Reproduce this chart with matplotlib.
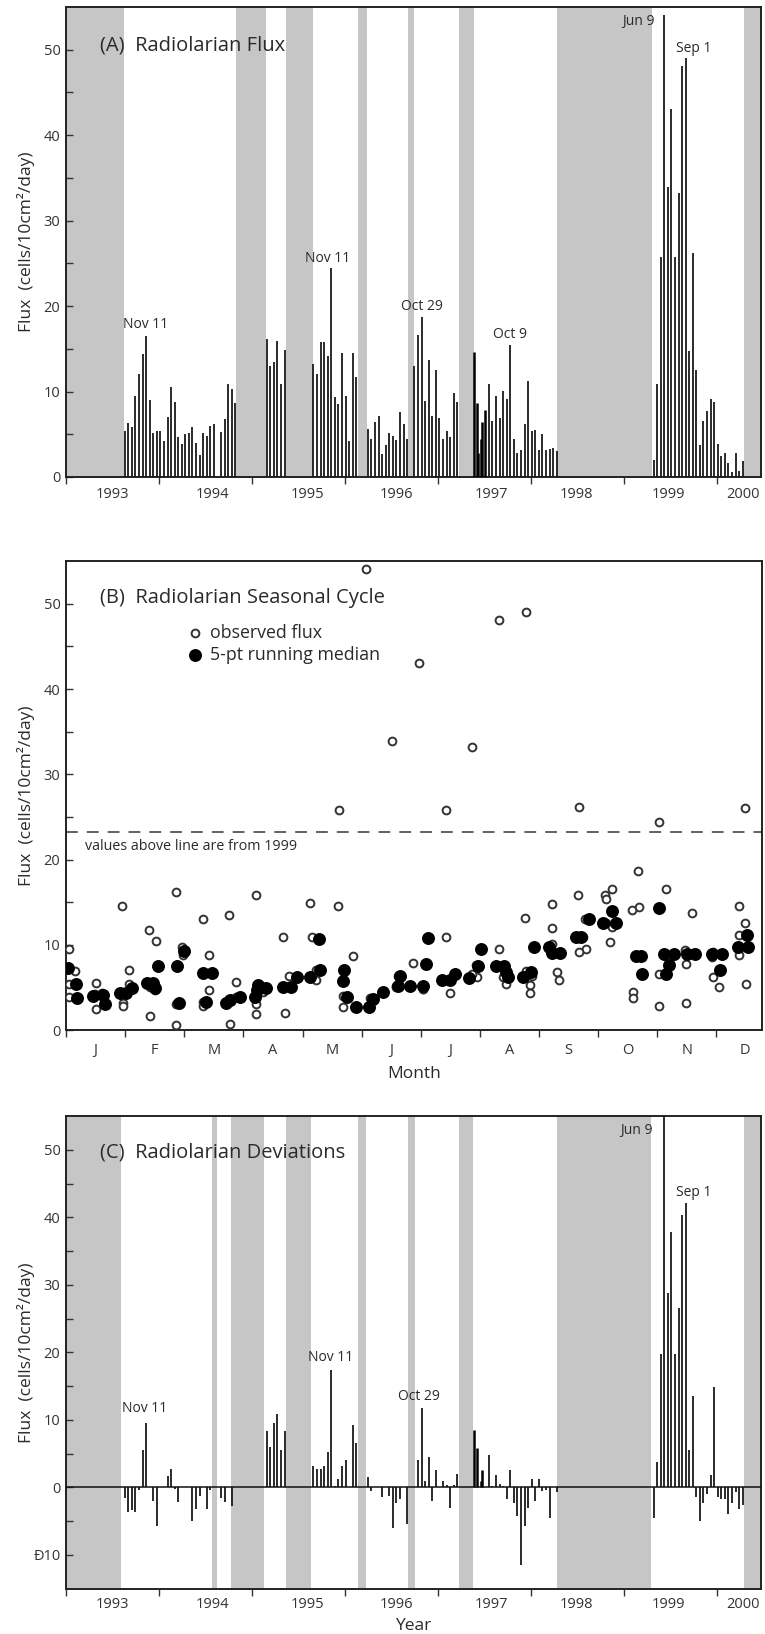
import numpy as np
import matplotlib.pyplot as plt

plt.rcParams['font.family'] = ['Open Sans', 'DejaVu Sans']
plt.rcParams['lines.scale_dashes'] = False
plt.rcParams['text.color'] = '#2a2a2a'

nan = np.nan
step = 14 / 365.25  # two-week sampling cups

# Panel A (observed flux) and panel C (deviations), one list per sampling run
start_93 = 1993.631
flux_93 = [5.4, 6.3, 5.9, 9.5, 12.1, 14.4, 16.5, 9.0, 5.1, 5.35, 5.35, 4.2, 7.0, 10.5, 8.8, 4.7,
           3.9, 5.0, 5.2, 5.9, 4.0, 2.6, 5.1, 4.8, 6.0, 6.2, nan, 5.3, 6.8, 10.9, 10.3, 8.7]
dev_93 = [-1.6, -3.6, -3.3, -3.6, -0.35, 5.6, 9.6, 0.0, -2.1, -5.8, 0.0, 0.0, 1.7, 2.7, -0.3, -2.2,
          0.0, 0.0, 0.0, -5.0, -3.2, -1.3, 0.0, -3.2, -0.35, nan, nan, -1.6, -2.2, 0.0, -2.8, nan]

start_95a = 1995.158
flux_95a = [16.2, 13.0, 13.5, 15.9, 10.9, 14.9]
dev_95a = [8.4, 6.0, 9.5, 10.8, 5.6, 8.3]

start_95b = 1995.659
flux_95b = [13.2, 12.0, 15.8, 15.8, 14.1, 24.4, 9.4, 8.55, 14.5, 9.5, 4.2, 14.5, 11.7]
dev_95b = [3.2, 2.7, 2.7, 3.1, 5.2, 17.4, 0.25, 1.2, 3.1, 4.0, 0.0, 9.3, 6.5]

start_96a = 1996.244
flux_96a = [5.6, 4.5, 6.4, 7.1, 2.7, 3.75, 5.2, 4.8, 4.3, 7.6, 6.25, 4.4]
dev_96a = [1.6, -0.5, 0.0, 0.0, -1.4, 0.0, -1.3, -6.1, -2.3, -1.8, 0.0, -5.4]

start_96b = 1996.745
flux_96b = [13.0, 16.6, 18.7, 8.9, 13.7, 7.1, 12.5, 6.9, 4.4, 5.4, 4.7, 9.8, 8.8]
dev_96b = [0.0, 4.0, 11.75, 1.0, 4.5, -2.0, 2.5, 0.0, 1.0, 0.3, -3.0, 0.3, 1.9]

# short, closely spaced cups in spring 1997 (drawn solid black)
dense_years = [1997.390, 1997.412, 1997.433, 1997.455, 1997.476, 1997.498]
dense_flux = [14.6, 8.7, 2.8, 4.5, 6.4, 7.85]
dense_dev = [8.5, 5.8, 0.0, 1.0, 2.5, 0.0]

start_97 = 1997.545
flux_97 = [10.9, 6.6, 9.5, 6.9, 10.1, 9.1, 15.4, 4.5, 2.85, 3.2, 6.2, 11.2, 5.4, 5.5, 3.2, 5.0,
           3.1, 3.3, 3.4, 3.05]
dev_97 = [4.8, 0.2, 1.8, 0.5, 0.2, -1.8, 2.5, -2.3, -4.3, -11.5, -5.7, -3.1, 1.2, -2.0, 1.2, -0.6,
          -0.4, -4.6, 0.0, -0.7]

start_99 = 1999.315
flux_99 = [2.0, 10.9, 25.8, 54.1, 33.9, 43.1, 25.8, 33.2, 48.1, 49.0, 14.8, 26.2, 12.5, 3.75, 6.6,
           7.7, 9.1, 8.75, 3.9, 2.5, 2.85, 1.6, 0.6, 2.85, 0.7, 1.9]
dev_99 = [-4.5, 3.7, 19.8, 56.0, 28.8, 37.8, 19.7, 26.6, 40.4, 42.1, 5.6, 13.5, -1.5, -5.0, -2.3,
          -1.0, 1.8, 14.9, -1.5, -1.7, -1.7, -3.9, -2.3, -0.7, -3.2, -2.6]

# grey bands (no data)
gaps_a = [(1993.0, 1993.624), (1994.831, 1995.147), (1995.366, 1995.653), (1996.136, 1996.237),
          (1996.681, 1996.742), (1997.226, 1997.387), (1998.28, 1999.30), (2000.283, 2000.47)]
gaps_c = [(1993.0, 1993.596), (1994.566, 1994.626), (1994.778, 1995.126), (1995.362, 1995.634),
          (1996.136, 1996.222), (1996.681, 1996.753), (1997.219, 1997.369), (1998.28, 1999.29),
          (2000.283, 2000.47)]

# Panel B: 5-pt running median (day of year, flux)
median_day = [0.9, 5.2, 5.9, 14, 19.2, 20.4, 28.3, 31.4, 34.4, 42.2, 45.4, 46.6, 48.3, 58.3, 59.2,
              62, 71.9, 73.3, 76.3, 84.1, 85.9, 91, 99, 100, 100.7, 105, 114, 118, 121, 127.7,
              132.6, 133.3, 145, 146, 147.5, 152, 159, 161, 166, 174.3, 175, 180.4, 187, 188.5,
              189.6, 197.2, 201.4, 203.7, 211.5, 215.9, 217.6, 225.5, 229.8, 230.7, 231.6, 239.4,
              243.8, 245.5, 253.4, 255, 259, 267.4, 270, 274, 281.7, 286.2, 288.3, 298.8, 301.4,
              302, 311, 313.6, 314.8, 315.9, 318.8, 325.8, 329.8, 338.6, 342.7, 343.8, 352.5,
              357.2, 357.7]
median_val = [7.3, 5.35, 3.8, 4.0, 4.1, 3.1, 4.3, 4.3, 4.9, 5.5, 5.5, 4.9, 7.5, 7.5, 3.2,
              9.3, 6.7, 3.3, 6.7, 3.2, 3.5, 3.9, 3.9, 4.7, 5.3, 4.9, 5.1, 5.1, 6.25, 6.25,
              10.7, 7.0, 5.7, 7.0, 3.9, 2.7, 2.7, 3.7, 4.5, 5.2, 6.4, 5.2, 5.2, 7.8,
              10.8, 5.9, 5.9, 6.6, 6.05, 7.5, 9.45, 7.5, 7.5, 6.8, 6.2, 6.2,
              6.8, 9.7, 9.7, 9.0, 9.0, 10.9, 10.9, 13.0, 12.6, 14.0, 12.5, 8.7, 8.7,
              6.6, 14.3, 8.9, 6.6, 7.6, 8.9, 8.9, 8.9, 8.9, 7.0, 8.9, 9.8,
              11.1, 9.8]
extra_obs_day = [356]
extra_obs_val = [26.1]

year_labels = ['1993', '1994', '1995', '1996', '1997', '1998', '1999', '2000']
year_label_pos = [1993.5, 1994.57, 1995.59, 1996.55, 1997.57, 1998.49, 1999.48, 2000.28]
month_labels = ['J', 'F', 'M', 'A', 'M', 'J', 'J', 'A', 'S', 'O', 'N', 'D']
month_label_pos = [15.5, 46.5, 77.5, 108.5, 139.5, 170.5, 201.5, 232.5, 263.5, 294.5, 325.5, 356]

runs = [(start_93, flux_93, dev_93), (start_95a, flux_95a, dev_95a), (start_95b, flux_95b, dev_95b),
        (start_96a, flux_96a, dev_96a), (start_96b, flux_96b, dev_96b), (start_97, flux_97, dev_97),
        (start_99, flux_99, dev_99)]

grey = '#c6c6c6'
ink = '#1a1a1a'
ylab = 'Flux  (cells/10cm²/day)'

fig = plt.figure(figsize=(7.65, 16.34), dpi=100)
axA = fig.add_axes([0.0863, 0.7081, 0.9085, 0.2876])
axB = fig.add_axes([0.0863, 0.3696, 0.9100, 0.2870])
axC = fig.add_axes([0.0863, 0.0278, 0.9085, 0.2892])


def frame(ax):
    for s in ax.spines.values():
        s.set_linewidth(1.4)
        s.set_color('#222222')
    ax.tick_params(axis='y', which='both', direction='in', length=5, width=1.0,
                   labelsize=10.5, pad=4, colors='#333333')
    ax.text(-0.0576, 0.5, ylab, transform=ax.transAxes, rotation=90,
            ha='center', va='center', fontsize=12.5)


def year_axis(ax, pad):
    ax.set_xlim(1993, 2000.47)
    ax.set_xticks(range(1993, 2001))
    ax.set_xticklabels([])
    ax.set_xticks(year_label_pos, labels=year_labels, minor=True)
    ax.tick_params(axis='x', which='major', direction='out', length=5, width=1.0, color='#333333')
    ax.tick_params(axis='x', which='minor', length=0, labelsize=10.5, pad=pad, labelcolor='#333333')


def draw_bars(ax, which):
    for start, f, d in runs:
        vals = np.array(f if which == 'flux' else d, dtype=float)
        yrs = start + step * np.arange(len(vals))
        ok = ~np.isnan(vals)
        ax.vlines(yrs[ok], 0, vals[ok], colors=ink, lw=1.3, zorder=3)
    vals = dense_flux if which == 'flux' else dense_dev
    ax.vlines(dense_years, 0, vals, colors='black', lw=1.8, zorder=3)


# ---------- (A) ----------
for a, b in gaps_a:
    axA.axvspan(a, b, color=grey, lw=0, zorder=0)
draw_bars(axA, 'flux')
axA.set_ylim(0, 55)
axA.set_yticks(range(0, 51, 10))
axA.set_yticks(range(5, 50, 10), minor=True)
frame(axA)
year_axis(axA, 7)
axA.text(1993.366, 50.5, '(A)  Radiolarian Flux', fontsize=14.5, va='center')
for txt, x, y, ha in [('Nov 11', 1993.857, 17.8, 'center'), ('Nov 11', 1995.817, 25.6, 'center'),
                      ('Oct 29', 1996.825, 20.0, 'center'), ('Oct 9', 1997.774, 16.7, 'center'),
                      ('Jun 9', 1999.323, 53.3, 'right'), ('Sep 1', 1999.742, 50.2, 'center')]:
    axA.text(x, y, txt, fontsize=10, ha=ha, va='center')

# ---------- (B) ----------
all_years = np.concatenate([s + step * np.arange(len(f)) for s, f, _ in runs] + [np.array(dense_years)])
all_flux = np.concatenate([np.array(f, dtype=float) for _, f, _ in runs] + [np.array(dense_flux)])
keep = ~np.isnan(all_flux)
doy = (all_years - np.floor(all_years)) * 365.25
open_style = dict(marker='o', ls='none', ms=5.6, mfc='white', mec='#333333', mew=1.4)
axB.plot(doy[keep], all_flux[keep], zorder=3, **open_style)
axB.plot(extra_obs_day, extra_obs_val, zorder=3, **open_style)
axB.plot(median_day, median_val, 'o', ls='none', ms=8.3, color='black', zorder=4)
axB.axhline(23.2, color='#555555', lw=1.3, dashes=(8.5, 6.5), zorder=2)
axB.text(10, 21.5, 'values above line are from 1999', fontsize=10.3, va='center')
axB.set_xlim(0, 365)
axB.set_ylim(0, 55)
axB.set_yticks(range(0, 51, 10))
axB.set_yticks(range(5, 50, 10), minor=True)
axB.set_xticks(range(0, 342, 31))
axB.set_xticklabels([])
axB.set_xticks(month_label_pos, labels=month_labels, minor=True)
axB.tick_params(axis='x', which='major', direction='out', length=5, width=1.0, color='#333333')
axB.tick_params(axis='x', which='minor', length=0, labelsize=10.5, pad=9, labelcolor='#333333')
frame(axB)
axB.text(17.8, 50.7, '(B)  Radiolarian Seasonal Cycle', fontsize=14.5, va='center')
axB.plot([0.185], [0.846], transform=axB.transAxes, clip_on=False, **open_style)
axB.plot([0.185], [0.800], 'o', ms=8.3, color='black', transform=axB.transAxes)
axB.text(0.207, 0.846, 'observed flux', transform=axB.transAxes, fontsize=12.8, va='center')
axB.text(0.207, 0.800, '5-pt running median', transform=axB.transAxes, fontsize=12.8, va='center')
axB.text(0.5, -0.094, 'Month', transform=axB.transAxes, fontsize=12.5, ha='center', va='center')

# ---------- (C) ----------
for a, b in gaps_c:
    axC.axvspan(a, b, color=grey, lw=0, zorder=0)
draw_bars(axC, 'dev')
axC.axhline(0, color='#111111', lw=1.1, zorder=4)
axC.set_ylim(-15, 55)
axC.set_yticks(range(-10, 51, 10))
axC.set_yticklabels(['Đ10', '0', '10', '20', '30', '40', '50'])
axC.set_yticks(range(-5, 50, 10), minor=True)
frame(axC)
year_axis(axC, 6)
axC.text(1993.366, 49.6, '(C)  Radiolarian Deviations', fontsize=14.5, va='center')
for txt, x, y, ha in [('Nov 11', 1993.846, 11.7, 'center'), ('Nov 11', 1995.839, 19.2, 'center'),
                      ('Oct 29', 1996.79, 13.4, 'center'), ('Jun 9', 1999.30, 52.9, 'right'),
                      ('Sep 1', 1999.745, 43.6, 'center')]:
    axC.text(x, y, txt, fontsize=10, ha=ha, va='center')
axC.text(0.5, -0.079, 'Year', transform=axC.transAxes, fontsize=12.5, ha='center', va='center')

fig.savefig('out.png', dpi=100)
